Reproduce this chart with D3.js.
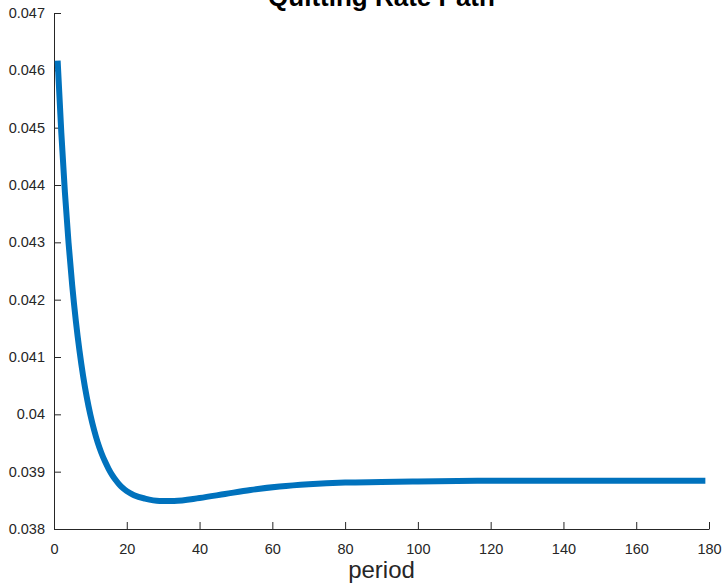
<!DOCTYPE html>
<html>
<head>
<meta charset="utf-8">
<script src="https://cdn.jsdelivr.net/npm/d3@7"></script>
<style>
  body { margin: 0; background: #fff; }
  svg { display: block; font-family: "Liberation Sans", Arial, sans-serif; }
</style>
</head>
<body>
<svg width="724" height="584"></svg>
<script>
// values
var periods = [1, 2, 3, 4, 5, 6, 7, 8, 9, 10, 11, 12, 13, 14, 15, 16, 17, 18, 19, 20, 22, 25, 29, 33, 40, 47, 54, 62, 70, 80, 90, 100, 120, 140, 160, 179];
var rates = [0.04617, 0.04492, 0.04387, 0.04299, 0.04225, 0.04163, 0.04111, 0.04067, 0.04030, 0.03999, 0.03973, 0.03951, 0.03933, 0.03918, 0.03905, 0.03894, 0.03885, 0.03877, 0.03871, 0.03866, 0.03859, 0.03853, 0.03849, 0.03849, 0.03854, 0.03861, 0.03868, 0.03874, 0.03878, 0.03881, 0.03882, 0.03883, 0.03884, 0.03884, 0.03884, 0.03884];
var xTicks = [0, 20, 40, 60, 80, 100, 120, 140, 160, 180];
var yTicks = [0.038, 0.039, 0.040, 0.041, 0.042, 0.043, 0.044, 0.045, 0.046, 0.047];

var svg = d3.select("svg");
var mLeft = 54, mRight = 709, mTop = 13, mBottom = 529;
var ink = "#262626";

var x = d3.scaleLinear().domain([0, 180]).range([mLeft, mRight]);
var y = d3.scaleLinear().domain([0.038, 0.047]).range([mBottom, mTop]);

var data = periods.map(function(p, i) { return {p: p, v: rates[i]}; });

// axes, ticks pointing inward like matlab
var xAxis = svg.append("g")
    .attr("transform", "translate(0," + mBottom + ")")
    .call(d3.axisBottom(x).tickValues(xTicks).tickSize(-7).tickPadding(15).tickSizeOuter(0));
var yAxis = svg.append("g")
    .attr("transform", "translate(" + mLeft + ",0)")
    .call(d3.axisLeft(y).tickValues(yTicks).tickSize(-7).tickPadding(9).tickSizeOuter(0)
      .tickFormat(function(d) { return +d.toFixed(3); }));

[xAxis, yAxis].forEach(function(a) {
  a.select(".domain").attr("stroke", ink).attr("stroke-width", 1);
  a.selectAll(".tick line").attr("stroke", ink);
  a.selectAll(".tick text").attr("fill", ink).style("font-size", "14.5px");
});

var line = d3.line()
    .x(function(d) { return x(d.p); })
    .y(function(d) { return y(d.v); })
    .curve(d3.curveMonotoneX);

svg.append("path")
    .datum(data)
    .attr("d", line)
    .attr("fill", "none")
    .attr("stroke", "#0072BD")
    .attr("stroke-width", 6);

svg.append("text")
    .attr("x", (mLeft + mRight) / 2)
    .attr("y", 6)
    .attr("text-anchor", "middle")
    .attr("font-weight", "bold")
    .attr("fill", "#000")
    .style("font-size", "26px")
    .text("Quitting Rate Path");

svg.append("text")
    .attr("x", (mLeft + mRight) / 2)
    .attr("y", 578)
    .attr("text-anchor", "middle")
    .attr("fill", ink)
    .style("font-size", "24px")
    .text("period");
</script>
</body>
</html>
